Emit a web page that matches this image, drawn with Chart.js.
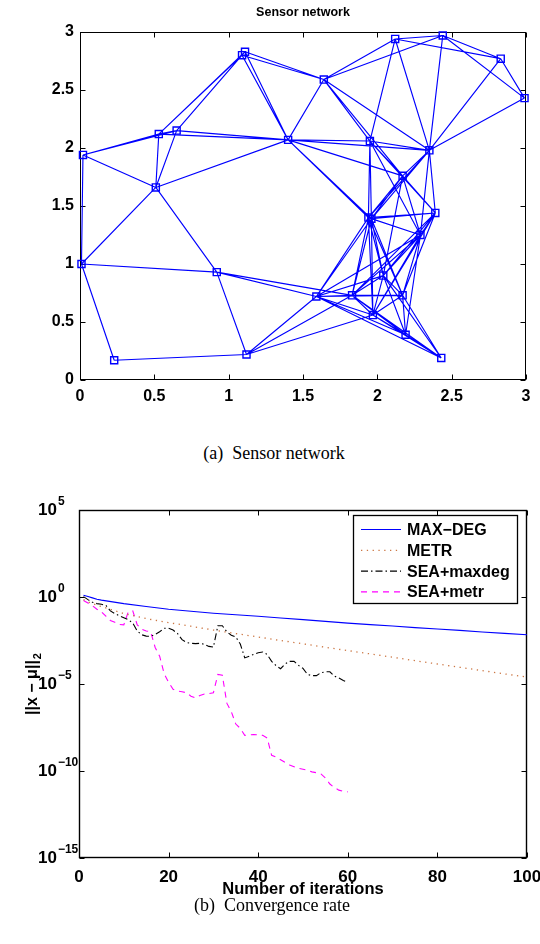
<!DOCTYPE html>
<html><head><meta charset="utf-8">
<script src="https://cdn.jsdelivr.net/npm/chart.js@4.4.1/dist/chart.umd.min.js"></script>
<style>
html,body{margin:0;padding:0;background:#fff;width:540px;height:944px;overflow:hidden;}
#c1{position:absolute;left:0;top:0;}
#c2{position:absolute;left:0;top:480px;}
.cap{position:absolute;font-family:"Liberation Serif","Times New Roman",serif;font-size:18px;color:#000;white-space:nowrap;transform:translate(-50%,-50%);}
</style></head><body>
<canvas id="c1" width="540" height="420"></canvas>
<canvas id="c2" width="540" height="420"></canvas>
<div class="cap" style="left:274px;top:453px">(a)&nbsp;&nbsp;Sensor network</div>
<div class="cap" style="left:272px;top:905px">(b)&nbsp;&nbsp;Convergence rate</div>
<script>
// ---------- (a) Sensor network data ----------
const nodeX = [0.02,0.53,0.65,0.51,1.09,1.11,1.40,1.64,2.12,2.44,2.83,2.99,1.95,2.35,2.17,2.39,1.94,1.96,2.29,2.04,1.59,1.83,2.17,1.97,2.19,2.43,0.01,0.92,0.23,1.12];
const nodeY = [1.94,2.12,2.15,1.66,2.80,2.83,2.07,2.59,2.94,2.97,2.77,2.43,2.06,1.98,1.76,1.44,1.40,1.39,1.25,0.90,0.72,0.73,0.73,0.56,0.39,0.19,1.00,0.93,0.17,0.22];
const linkRadius = 1.0;          // nodes closer than this are connected
const networkTicks = [0,0.5,1,1.5,2,2.5,3];
const networkTickLabels = ['0','0.5','1','1.5','2','2.5','3'];
const networkTitle = 'Sensor network';

// ---------- (b) Convergence rate data ----------
const smoothIters = [1,2,3,4,5,10,15,20,25,30,35,40,45,50,55,60,65,70,75,80,85,90,95,100];
const maxDegLog10 = [0.10,0.03,-0.05,-0.13,-0.18,-0.38,-0.55,-0.70,-0.82,-0.93,-1.02,-1.11,-1.21,-1.30,-1.40,-1.50,-1.59,-1.67,-1.76,-1.84,-1.92,-2.01,-2.09,-2.17];
const metrLog10   = [-0.15,-0.28,-0.38,-0.47,-0.55,-0.95,-1.24,-1.47,-1.68,-1.90,-2.10,-2.30,-2.50,-2.69,-2.89,-3.08,-3.27,-3.46,-3.66,-3.85,-4.04,-4.23,-4.42,-4.60];
const seaIters = [1,2,3,4,5,6,7,8,9,10,11,12,13,14,15,16,17,18,19,20,21,22,23,24,25,26,27,28,29,30,31,32,33,34,35,36,37,38,39,40,41,42,43,44,45,46,47,48,49,50,51,52,53,54,55,56,57,58,59,60];
const seaMaxdegLog10 = [0.02,-0.15,-0.30,-0.38,-0.42,-0.48,-0.80,-0.95,-1.08,-1.19,-1.30,-1.50,-1.95,-2.17,-2.25,-2.26,-2.15,-2.00,-1.80,-1.80,-1.90,-2.10,-2.45,-2.62,-2.66,-2.68,-2.66,-2.72,-2.84,-2.88,-1.65,-1.65,-2.00,-2.20,-2.30,-2.70,-3.50,-3.40,-3.30,-3.20,-3.16,-3.30,-3.70,-3.95,-4.12,-3.85,-3.70,-3.70,-3.93,-4.10,-4.45,-4.52,-4.52,-4.35,-4.30,-4.30,-4.55,-4.65,-4.80,-4.90];
const seaMetrLog10 = [-0.20,-0.35,-0.50,-0.70,-0.85,-1.10,-1.35,-1.45,-1.58,-1.60,-0.85,-0.80,-1.60,-1.85,-1.95,-2.00,-2.90,-3.40,-4.40,-4.90,-5.30,-5.40,-5.45,-5.50,-5.70,-5.80,-5.66,-5.58,-5.55,-5.50,-4.45,-4.50,-6.10,-6.60,-7.30,-7.55,-7.95,-7.92,-7.90,-7.92,-7.95,-8.10,-9.10,-9.20,-9.35,-9.50,-9.65,-9.75,-9.85,-9.90,-9.95,-10.05,-10.10,-10.17,-10.40,-10.75,-10.95,-11.10,-11.17,-11.20];
const seriesLabels = ['MAX\u2212DEG','METR','SEA+maxdeg','SEA+metr'];
const iterTicks = [0,20,40,60,80,100];
const errorTickExponents = [5,0,-5,-10,-15];
const xTitle = 'Number of iterations';
const yTitleMain = '||x \u2212 \u03bc||';
const yTitleSub = '2';

const SANS = '"Liberation Sans", Arial, Helvetica, sans-serif';

// ---------- shared plugin: box frame + inward ticks ----------
const framePlugin = {
  id: 'frame',
  beforeDatasetsDraw(chart, args, opts) {
    const {ctx, chartArea: a} = chart;
    const L = Math.round(a.left) + 0.5, R = Math.round(a.right) - 0.5,
          T = Math.round(a.top) + 0.5, B = Math.round(a.bottom) - 0.5;
    const len = opts.tickLen || 5;
    ctx.save();
    ctx.strokeStyle = '#000';
    ctx.lineWidth = opts.lineWidth || 1;
    ctx.strokeRect(L, T, R - L, B - T);
    ctx.lineWidth = 1;
    ctx.beginPath();
    chart.scales.x.ticks.forEach(t => {
      const px = Math.round(chart.scales.x.getPixelForValue(t.value)) + 0.5;
      ctx.moveTo(px, B); ctx.lineTo(px, B - len);
      ctx.moveTo(px, T); ctx.lineTo(px, T + len);
    });
    chart.scales.y.ticks.forEach(t => {
      const py = Math.round(chart.scales.y.getPixelForValue(t.value)) + 0.5;
      ctx.moveTo(L, py); ctx.lineTo(L + len, py);
      ctx.moveTo(R, py); ctx.lineTo(R - len, py);
    });
    ctx.stroke();
    ctx.restore();
  }
};

// ---------- (a) chart ----------
const nodePoints = nodeX.map((x, i) => ({x: x, y: nodeY[i]}));
const edgePoints = [];
for (let i = 0; i < nodePoints.length; i++) {
  for (let j = i + 1; j < nodePoints.length; j++) {
    const dx = nodeX[i] - nodeX[j], dy = nodeY[i] - nodeY[j];
    if (Math.sqrt(dx * dx + dy * dy) <= linkRadius) {
      edgePoints.push(nodePoints[i], nodePoints[j], {x: nodeX[j], y: null});
    }
  }
}

const titlePlugin = {
  id: 'topTitle',
  afterDraw(chart) {
    const {ctx, chartArea: a} = chart;
    ctx.save();
    ctx.font = 'bold 12.5px ' + SANS;
    ctx.fillStyle = '#000';
    ctx.textAlign = 'center';
    ctx.textBaseline = 'middle';
    ctx.fillText(networkTitle, (a.left + a.right) / 2, 13);
    ctx.restore();
  }
};

const labelFor = v => networkTickLabels[networkTicks.indexOf(v)];
const tickFontA = {family: SANS, size: 16, weight: 'bold'};
new Chart(document.getElementById('c1'), {
  type: 'scatter',
  data: {
    datasets: [
      {data: nodePoints, pointStyle: 'rect', pointRadius: 5, pointBorderWidth: 1.4,
       borderColor: '#0000ff', backgroundColor: 'rgba(0,0,0,0)', showLine: false, clip: false},
      {data: edgePoints, showLine: true, spanGaps: false, pointRadius: 0, borderColor: '#0000ff',
       borderWidth: 1.15, backgroundColor: '#0000ff', tension: 0}
    ]
  },
  options: {
    responsive: false, animation: false, devicePixelRatio: 1,
    layout: {padding: {top: 32, right: 14, left: 0, bottom: 0}},
    plugins: {legend: {display: false}, tooltip: {enabled: false}, frame: {lineWidth: 1, tickLen: 5}},
    scales: {
      x: {type: 'linear', min: 0, max: 3,
          afterBuildTicks: s => { s.ticks = networkTicks.map(v => ({value: v})); },
          grid: {display: false, drawTicks: false}, border: {display: false},
          ticks: {font: tickFontA, color: '#000', padding: 7, maxRotation: 0, autoSkip: false, callback: v => labelFor(v)},
          afterFit: s => { s.height = 40; s.paddingLeft = 0; s.paddingRight = 0; }},
      y: {type: 'linear', min: 0, max: 3,
          afterBuildTicks: s => { s.ticks = networkTicks.map(v => ({value: v})); },
          grid: {display: false, drawTicks: false}, border: {display: false},
          ticks: {font: tickFontA, color: '#000', padding: 6, autoSkip: false, callback: v => labelFor(v)},
          afterFit: s => { s.width = 80; s.paddingTop = 0; s.paddingBottom = 0; }}
    }
  },
  plugins: [framePlugin, titlePlugin]
});

// ---------- (b) chart ----------
const logLabelPlugin = {
  id: 'logLabels',
  afterDraw(chart) {
    const {ctx, chartArea: a} = chart;
    const ys = chart.scales.y;
    ctx.save();
    ctx.fillStyle = '#000';
    ctx.textAlign = 'left';
    ctx.textBaseline = 'middle';
    errorTickExponents.forEach(e => {
      const py = ys.getPixelForValue(Math.pow(10, e));
      const x0 = a.left - 41;
      ctx.font = 'bold 17px ' + SANS;
      ctx.fillText('10', x0, py);
      const w = ctx.measureText('10').width;
      ctx.font = 'bold 12px ' + SANS;
      ctx.fillText(e < 0 ? '\u2212' + Math.abs(e) : String(e), x0 + w + 1, py - 8);
    });
    // rotated y-axis title with subscript
    const cy = (a.top + a.bottom) / 2;
    ctx.translate(33, cy);
    ctx.rotate(-Math.PI / 2);
    ctx.font = 'bold 16px ' + SANS;
    const wm = ctx.measureText(yTitleMain).width;
    ctx.font = 'bold 11px ' + SANS;
    const ws = ctx.measureText(yTitleSub).width;
    const x0 = -(wm + ws + 1) / 2;
    ctx.font = 'bold 16px ' + SANS;
    ctx.fillText(yTitleMain, x0, 0);
    ctx.font = 'bold 11px ' + SANS;
    ctx.fillText(yTitleSub, x0 + wm + 1, 5);
    ctx.restore();
  }
};

const legendPlugin = {
  id: 'boxLegend',
  afterDraw(chart) {
    const {ctx, chartArea: a} = chart;
    const bx = a.right - 174, by = a.top + 5, bw = 164, bh = 88;
    ctx.save();
    ctx.fillStyle = '#fff';
    ctx.fillRect(bx, by, bw, bh);
    ctx.strokeStyle = '#000';
    ctx.lineWidth = 1.3;
    ctx.strokeRect(bx + 0.5, by + 0.5, bw, bh);
    chart.data.datasets.forEach((ds, i) => {
      const y = by + 14.5 + i * 20.8;
      ctx.beginPath();
      ctx.setLineDash(ds.borderDash || []);
      ctx.strokeStyle = ds.borderColor;
      ctx.lineWidth = ds.borderWidth;
      ctx.moveTo(bx + 8, y); ctx.lineTo(bx + 48, y);
      ctx.stroke();
      ctx.setLineDash([]);
      ctx.fillStyle = '#000';
      ctx.font = 'bold 16px ' + SANS;
      ctx.textAlign = 'left';
      ctx.textBaseline = 'middle';
      ctx.fillText(ds.label, bx + 54, y + 1);
    });
    ctx.restore();
  }
};

const toPoints = (xs, logs) => xs.map((x, i) => ({x: x, y: Math.pow(10, logs[i])}));
new Chart(document.getElementById('c2'), {
  type: 'line',
  data: {
    datasets: [
      {label: seriesLabels[0], data: toPoints(smoothIters, maxDegLog10), borderColor: '#0000ff', borderWidth: 1.1, borderDash: []},
      {label: seriesLabels[1], data: toPoints(smoothIters, metrLog10), borderColor: '#cc7744', borderWidth: 1.3, borderDash: [1.3, 4.5]},
      {label: seriesLabels[2], data: toPoints(seaIters, seaMaxdegLog10), borderColor: '#000000', borderWidth: 1.1, borderDash: [7, 3, 1.5, 3]},
      {label: seriesLabels[3], data: toPoints(seaIters, seaMetrLog10), borderColor: '#ff00ff', borderWidth: 1.1, borderDash: [6, 5]}
    ]
  },
  options: {
    responsive: false, animation: false, devicePixelRatio: 1,
    elements: {point: {radius: 0}, line: {tension: 0, fill: false}},
    layout: {padding: {top: 30, right: 13, left: 0, bottom: 0}},
    plugins: {legend: {display: false}, tooltip: {enabled: false}, frame: {lineWidth: 1.4, tickLen: 5}},
    scales: {
      x: {type: 'linear', min: 0, max: 100,
          afterBuildTicks: s => { s.ticks = iterTicks.map(v => ({value: v})); },
          grid: {display: false, drawTicks: false}, border: {display: false},
          ticks: {font: {family: SANS, size: 17, weight: 'bold'}, color: '#000', padding: 9, maxRotation: 0, autoSkip: false},
          title: {display: true, text: xTitle, color: '#000', font: {family: SANS, size: 16.5, weight: 'bold'}, padding: {top: 0, bottom: 1}},
          afterFit: s => { s.height = 42; s.paddingLeft = 0; s.paddingRight = 0; }},
      y: {type: 'logarithmic', min: 1e-15, max: 1e5,
          afterBuildTicks: s => { s.ticks = errorTickExponents.map(e => ({value: Math.pow(10, e)})); },
          grid: {display: false, drawTicks: false}, border: {display: false},
          ticks: {display: false},
          afterFit: s => { s.width = 79; s.paddingTop = 0; s.paddingBottom = 0; }}
    }
  },
  plugins: [framePlugin, logLabelPlugin, legendPlugin]
});
</script>
</body></html>
